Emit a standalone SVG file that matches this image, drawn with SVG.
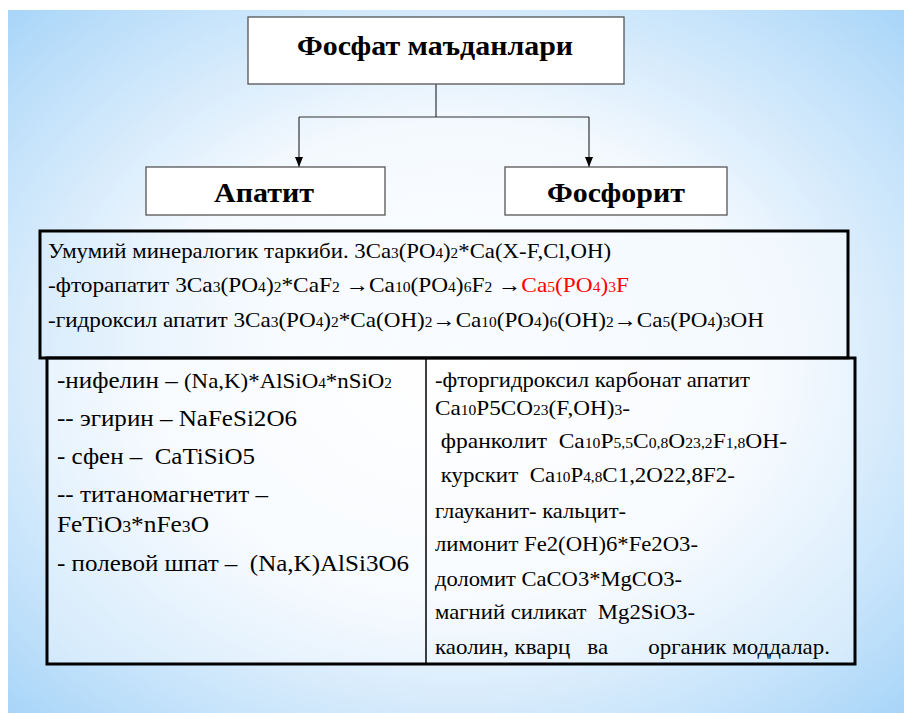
<svg xmlns="http://www.w3.org/2000/svg" width="904" height="713" viewBox="0 0 904 713">
<defs>
<radialGradient id="bg" cx="0.5" cy="0.5" r="0.75">
<stop offset="0" stop-color="#ffffff"/>
<stop offset="0.45" stop-color="#f4f9fe"/>
<stop offset="0.8" stop-color="#bfe0fa"/>
<stop offset="1" stop-color="#9fd0f7"/>
</radialGradient>
<linearGradient id="mid" x1="0" y1="0" x2="1" y2="0">
<stop offset="0" stop-color="#d9ecfb"/>
<stop offset="0.3" stop-color="#f7fbff"/>
<stop offset="1" stop-color="#f4f9fe"/>
</linearGradient>
<marker id="arr" markerWidth="10" markerHeight="8" refX="10" refY="4" orient="auto" markerUnits="userSpaceOnUse">
<path d="M0,0 L10,4 L0,8 Z" fill="#000"/>
</marker>
</defs>
<style>
.t{font-family:"Liberation Serif","Times New Roman",serif;fill:#000}
.h{font-weight:bold;font-size:28px;text-anchor:middle}
.m{font-size:21px}
.l{font-size:23px}
.r{font-size:21px}
.s{font-size:14px}
.box{fill:#fff;stroke:#555;stroke-width:1.3}
.con{fill:none;stroke:#333;stroke-width:1.2}
</style>
<rect x="0" y="0" width="904" height="713" fill="#fff"/>
<rect x="8" y="10" width="896" height="703" fill="url(#bg)"/>

<g id="connectors">
<polyline class="con" points="436,84 436,117"/>
<polyline class="con" points="299,117 589,117"/>
<polyline class="con" points="299,117 299,167" marker-end="url(#arr)"/>
<polyline class="con" points="589,117 589,167" marker-end="url(#arr)"/>
</g>

<g id="node-title">
<rect class="box" x="248" y="17" width="376" height="67"/>
<text class="t h" x="435" y="55" textLength="276" lengthAdjust="spacingAndGlyphs">Фосфат маъданлари</text>
</g>
<g id="node-apatit">
<rect class="box" x="146" y="167" width="239" height="48"/>
<text class="t h" x="264" y="202" textLength="100" lengthAdjust="spacingAndGlyphs">Апатит</text>
</g>
<g id="node-phosphorite">
<rect class="box" x="505" y="167" width="222" height="48"/>
<text class="t h" x="616" y="202" textLength="138" lengthAdjust="spacingAndGlyphs">Фосфорит</text>
</g>

<g id="node-general">
<rect x="40" y="231" width="808" height="127" fill="url(#mid)" fill-opacity="0.7" stroke="#000" stroke-width="3"/>
<text class="t m" x="48" y="258" textLength="563" lengthAdjust="spacingAndGlyphs">Умумий минералогик таркиби. 3Ca<tspan class="s">3</tspan>(PO<tspan class="s">4</tspan>)<tspan class="s">2</tspan>*Ca(X-F,Cl,OH)</text>
<text class="t m" x="48" y="292" textLength="581" lengthAdjust="spacingAndGlyphs">-фторапатит 3Ca<tspan class="s">3</tspan>(PO<tspan class="s">4</tspan>)<tspan class="s">2</tspan>*CaF<tspan class="s">2</tspan> →Ca<tspan class="s">10</tspan>(PO<tspan class="s">4</tspan>)<tspan class="s">6</tspan>F<tspan class="s">2</tspan> →<tspan fill="#ff0000">Ca<tspan class="s">5</tspan>(PO<tspan class="s">4</tspan>)<tspan class="s">3</tspan>F</tspan></text>
<text class="t m" x="48" y="327" textLength="716" lengthAdjust="spacingAndGlyphs">-гидроксил апатит 3Ca<tspan class="s">3</tspan>(PO<tspan class="s">4</tspan>)<tspan class="s">2</tspan>*Ca(OH)<tspan class="s">2</tspan>→Ca<tspan class="s">10</tspan>(PO<tspan class="s">4</tspan>)<tspan class="s">6</tspan>(OH)<tspan class="s">2</tspan>→Ca<tspan class="s">5</tspan>(PO<tspan class="s">4</tspan>)<tspan class="s">3</tspan>OH</text>
</g>

<g id="node-minerals">
<rect x="47" y="358" width="808" height="306" fill="#fff" fill-opacity="0.35" stroke="#000" stroke-width="3"/>
<line x1="426" y1="358" x2="426" y2="664" stroke="#000" stroke-width="1.5"/>
<text class="t l" x="57" y="388" textLength="335" lengthAdjust="spacingAndGlyphs">-нифелин – <tspan font-size="21px">(Na,K)*AlSiO<tspan class="s">4</tspan>*nSiO<tspan class="s">2</tspan></tspan></text>
<text class="t l" x="57" y="426" textLength="240" lengthAdjust="spacingAndGlyphs">-- эгирин – NaFeSi2O6</text>
<text class="t l" x="57" y="464" textLength="198" lengthAdjust="spacingAndGlyphs" xml:space="preserve">- сфен –  CaTiSiO5</text>
<text class="t l" x="57" y="502" textLength="211" lengthAdjust="spacingAndGlyphs">-- титаномагнетит –</text>
<text class="t l" x="57" y="532" textLength="152" lengthAdjust="spacingAndGlyphs">FeTiO<tspan font-size="16px">3</tspan>*nFe<tspan font-size="16px">3</tspan>O</text>
<text class="t l" x="57" y="571" textLength="352" lengthAdjust="spacingAndGlyphs" xml:space="preserve">- полевой шпат –  (Na,K)AlSi3O6</text>
<text class="t r" x="435" y="387" textLength="315" lengthAdjust="spacingAndGlyphs">-фторгидроксил карбонат апатит</text>
<text class="t r" x="435" y="415" textLength="195" lengthAdjust="spacingAndGlyphs">Ca<tspan class="s">10</tspan>P5CO<tspan class="s">23</tspan>(F,OH)<tspan class="s">3</tspan>-</text>
<text class="t r" x="435" y="448" textLength="352" lengthAdjust="spacingAndGlyphs" xml:space="preserve"> франколит  Ca<tspan class="s">10</tspan>P<tspan class="s">5,5</tspan>C<tspan class="s">0,8</tspan>O<tspan class="s">23,2</tspan>F<tspan class="s">1,8</tspan>OH-</text>
<text class="t r" x="435" y="482" textLength="300" lengthAdjust="spacingAndGlyphs" xml:space="preserve"> курскит  Ca<tspan class="s">10</tspan>P<tspan class="s">4,8</tspan>C1,2O22,8F2-</text>
<text class="t r" x="435" y="518" textLength="191" lengthAdjust="spacingAndGlyphs">глауканит- кальцит-</text>
<text class="t r" x="435" y="551" textLength="263" lengthAdjust="spacingAndGlyphs">лимонит Fe2(OH)6*Fe2O3-</text>
<text class="t r" x="435" y="586" textLength="247" lengthAdjust="spacingAndGlyphs">доломит CaCO3*MgCO3-</text>
<text class="t r" x="435" y="619" textLength="260" lengthAdjust="spacingAndGlyphs" xml:space="preserve">магний силикат  Mg2SiO3-</text>
<text class="t r" x="435" y="654" textLength="395" lengthAdjust="spacingAndGlyphs" xml:space="preserve">каолин, кварц   ва       органик моддалар.</text>
</g>
</svg>
